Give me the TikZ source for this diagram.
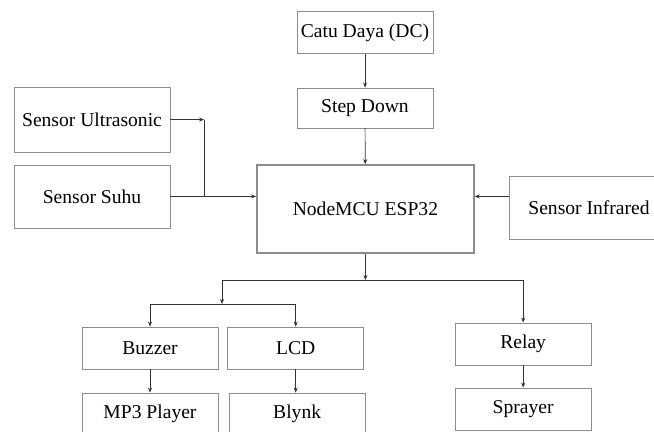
\documentclass[tikz,border=0pt]{standalone}
\usepackage{fontspec}
\setmainfont{Liberation Serif}
\usetikzlibrary{arrows.meta}
\begin{document}
\begin{tikzpicture}[
	blok/.style={draw=black!45, line width=0.8pt, minimum width=4.76 cm, minimum height=1.45 cm, inner sep=0pt, font=\fontsize{19.5}{23}\selectfont},
	garis/.style={draw=black!80, line width=0.7pt},
	panah/.style={garis, ->, >={Stealth[length=5pt, width=4pt]}}
]
	\useasboundingbox (0 cm, 0 cm) rectangle (22.89 cm, 15.085 cm);
	\node[blok] (Catu Daya) at (12.775 cm, 13.95 cm) {Catu Daya (DC)};
	\node[blok, minimum height=1.4 cm] (Step Down) at (12.775 cm, 11.305 cm) {Step Down};
	\node[blok, minimum width=5.46 cm, minimum height=2.275 cm] (Sensor Ultrasonic) at (3.22 cm, 10.9 cm) {Sensor Ultrasonic};
	\node[blok, minimum width=5.46 cm, minimum height=2.205 cm] (Sensor Suhu) at (3.22 cm, 8.21 cm) {Sensor Suhu};
	\node[blok, line width=1.6pt, minimum width=7.595 cm, minimum height=3.08 cm] (NodeMCU) at (12.79 cm, 7.77 cm) {NodeMCU ESP32};
	\node[blok, minimum width=5.6 cm, minimum height=2.205 cm] (Sensor Infrared) at (20.615 cm, 7.8225 cm) {Sensor Infrared};
	\node[blok, minimum height=1.47 cm] (Buzzer) at (5.25 cm, 2.905 cm) {Buzzer};
	\node[blok, minimum height=1.47 cm] (LCD) at (10.35 cm, 2.905 cm) {LCD};
	\node[blok, minimum height=1.47 cm] (MP3) at (5.25 cm, 0.595 cm) {MP3 Player};
	\node[blok, minimum height=1.47 cm] (Blynk) at (10.4 cm, 0.595 cm) {Blynk};
	\node[blok, minimum height=1.47 cm] (Relay) at (18.31 cm, 3.045 cm) {Relay};
	\node[blok, minimum height=1.47 cm] (Sprayer) at (18.31 cm, 0.77 cm) {Sprayer};
	% masukan
	\draw[panah] (Catu Daya) -- (Step Down);
	\draw[panah] (Step Down) -- (NodeMCU);
	\coordinate (Titik Sensor) at (7.14 cm, 8.21 cm);
	\draw[panah] (Sensor Ultrasonic.east) -- (Sensor Ultrasonic.east -| Titik Sensor);
	\draw[garis] (Sensor Ultrasonic.east -| Titik Sensor) -- (Titik Sensor);
	\draw[panah] (Sensor Suhu.east) -- (NodeMCU.west |- Sensor Suhu.east);
	\draw[panah] (Sensor Infrared.west |- Sensor Suhu.east) -- (NodeMCU.east |- Sensor Suhu.east);
	% keluaran
	\coordinate (Cabang Kiri) at (7.77 cm, 5.285 cm);
	\coordinate (Cabang Bawah) at (7.77 cm, 4.445 cm);
	\draw[panah] (NodeMCU.south) -- (NodeMCU.south |- Cabang Kiri);
	\draw[panah] (Cabang Kiri) -| (Relay);
	\draw[panah] (Cabang Kiri) -- (Cabang Bawah);
	\draw[panah] (Cabang Bawah) -| (Buzzer);
	\draw[panah] (Cabang Bawah) -| (LCD);
	\draw[panah] (Buzzer) -- (MP3);
	\draw[panah] (LCD.south) -- (LCD.south |- Blynk.north);
	\draw[panah] (Relay) -- (Sprayer);
\end{tikzpicture}
\end{document}
